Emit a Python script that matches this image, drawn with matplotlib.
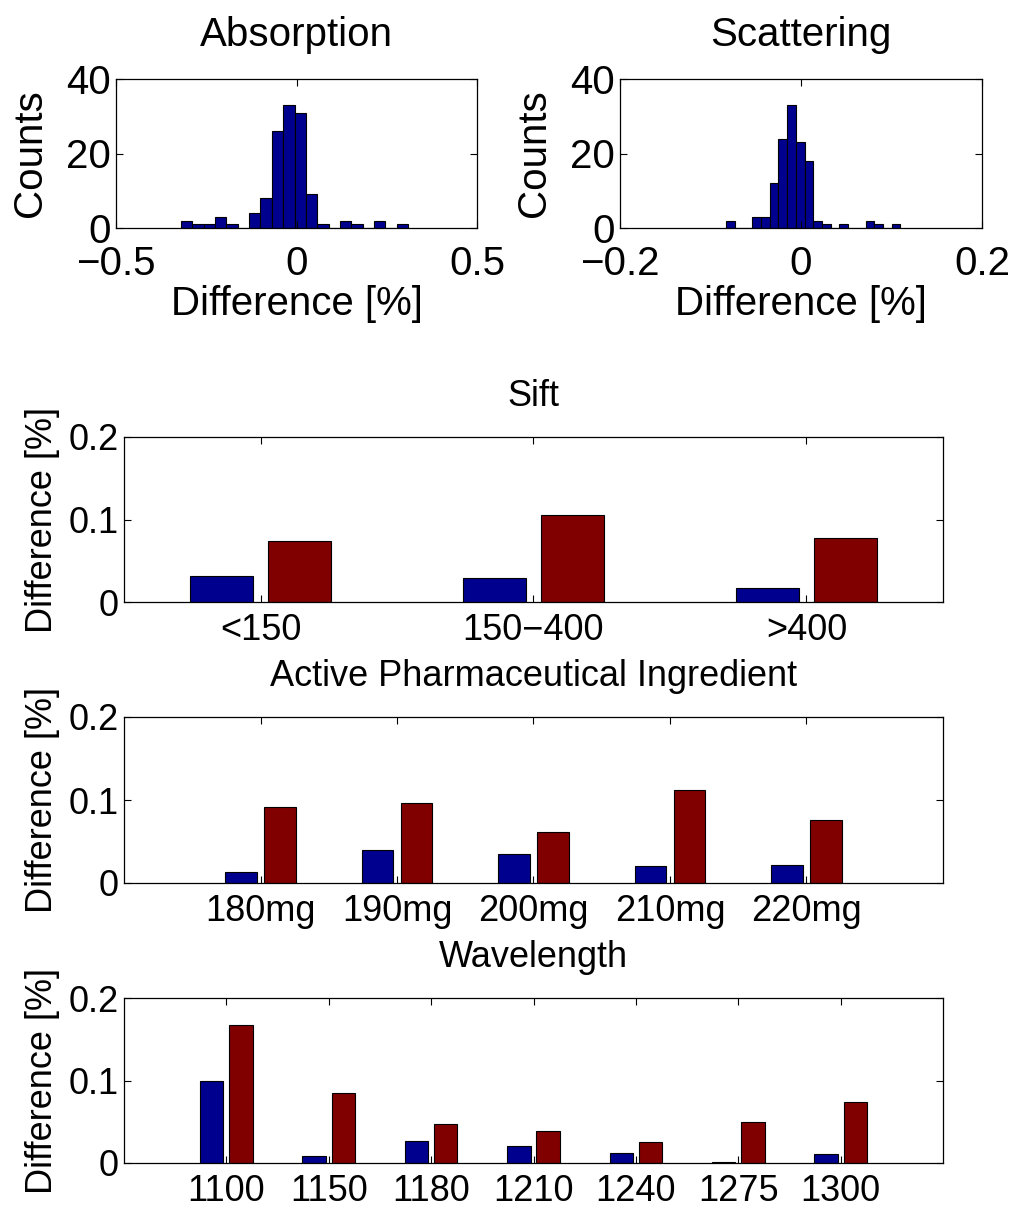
import numpy as np
import matplotlib
matplotlib.use('Agg')
import matplotlib.pyplot as plt

plt.rcParams['font.family'] = ['Liberation Sans', 'DejaVu Sans']

# histogram data (counts per bin, bin centre range)
abs_counts = [2, 1, 1, 3, 1, 0, 4, 8, 26, 33, 31, 9, 1, 0, 2, 1, 0, 2, 0, 1]
abs_range = (-0.304, 0.293)
sca_counts = [2, 0, 0, 3, 3, 12, 24, 33, 23, 18, 2, 1, 0, 1, 0, 0, 2, 1, 0, 1]
sca_range = (-0.078, 0.105)

# grouped bar data
sift_labels = ['<150', '150\u2212400', '>400']
sift_blue = [0.031, 0.029, 0.017]
sift_red = [0.074, 0.105, 0.077]

api_labels = ['180mg', '190mg', '200mg', '210mg', '220mg']
api_blue = [0.013, 0.040, 0.035, 0.021, 0.022]
api_red = [0.091, 0.096, 0.062, 0.112, 0.076]

wave_labels = ['1100', '1150', '1180', '1210', '1240', '1275', '1300']
wave_blue = [0.100, 0.009, 0.027, 0.021, 0.012, 0.001, 0.011]
wave_red = [0.167, 0.085, 0.047, 0.039, 0.026, 0.050, 0.074]

BLUE = '#00008F'
RED = '#800000'

W, H = 1018, 1209
fig = plt.figure(figsize=(W / 100, H / 100), dpi=100)


def box(l, t, r, b):
    return [l / W, 1 - b / H, (r - l) / W, (b - t) / H]


def style(ax, fs):
    ax.tick_params(direction='in', top=True, right=True, length=5,
                   labelsize=fs, width=0.8, pad=4)
    for s in ax.spines.values():
        s.set_linewidth(0.9)


def hist_panel(rect, counts, rng, xlim, xticks, xlabels, title):
    ax = fig.add_axes(rect)
    centers = np.linspace(rng[0], rng[1], len(counts))
    step = centers[1] - centers[0]
    ax.bar(centers, counts, width=step, color=BLUE, edgecolor='black', linewidth=0.8)
    ax.set_xlim(*xlim)
    ax.set_ylim(0, 40)
    ax.set_xticks(xticks)
    ax.set_xticklabels(xlabels)
    ax.set_yticks([0, 20, 40])
    ax.set_yticklabels(['0', '20', '40'])
    style(ax, 29)
    ax.tick_params(axis='x', pad=12)
    ax.set_xlabel('Difference [%]', fontsize=29, labelpad=2)
    ax.set_ylabel('Counts', fontsize=29, labelpad=12)
    ax.set_title(title, fontsize=29, pad=24)
    return ax


def bar_panel(rect, labels, blue, red, xlim, title):
    ax = fig.add_axes(rect)
    x = np.arange(1, len(labels) + 1)
    ax.bar(x - 0.143, blue, width=0.229, color=BLUE, edgecolor='black', linewidth=0.8)
    ax.bar(x + 0.143, red, width=0.229, color=RED, edgecolor='black', linewidth=0.8)
    ax.set_xlim(*xlim)
    ax.set_ylim(0, 0.2)
    ax.set_xticks(x)
    ax.set_xticklabels(labels)
    ax.set_yticks([0, 0.1, 0.2])
    ax.set_yticklabels(['0', '0.1', '0.2'])
    style(ax, 26)
    ax.tick_params(axis='x', pad=8)
    ax.set_ylabel('Difference [%]', fontsize=26, labelpad=6)
    ax.set_title(title, fontsize=26, pad=22)
    return ax


hist_panel(box(116, 79, 477, 228), abs_counts, abs_range, (-0.5, 0.5),
           [-0.5, 0, 0.5], ['\u22120.5', '0', '0.5'], 'Absorption')
hist_panel(box(620, 79, 982, 228), sca_counts, sca_range, (-0.2, 0.2),
           [-0.2, 0, 0.2], ['\u22120.2', '0', '0.2'], 'Scattering')

bar_panel(box(124, 437, 943, 602), sift_labels, sift_blue, sift_red, (0.5, 3.5), 'Sift')
bar_panel(box(124, 717, 943, 883), api_labels, api_blue, api_red, (0, 6),
          'Active Pharmaceutical Ingredient')
bar_panel(box(124, 998, 943, 1163), wave_labels, wave_blue, wave_red, (0, 8), 'Wavelength')

fig.savefig('out.png', dpi=100)
